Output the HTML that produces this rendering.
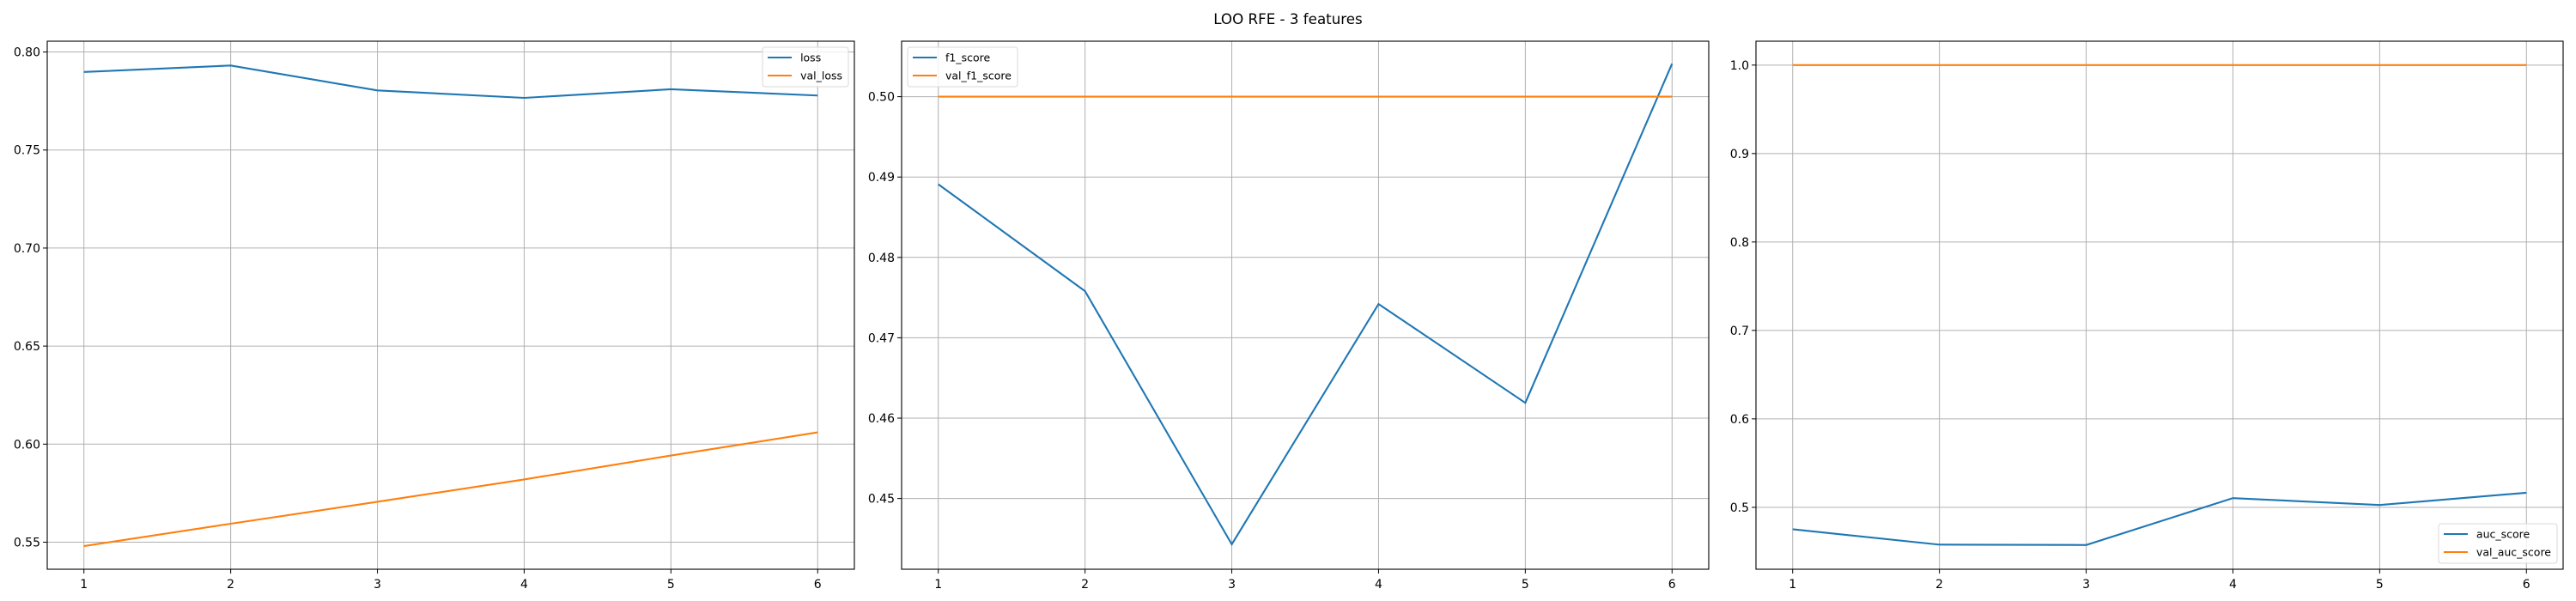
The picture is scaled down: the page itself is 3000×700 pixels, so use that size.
<!DOCTYPE html>
<html><head><meta charset="utf-8">
<style>
html,body{margin:0;padding:0;background:#fff;}
svg{display:block;font-family:"DejaVu Sans","Liberation Sans",sans-serif;}
</style></head>
<body>
<svg id="fig" width="3000" height="700" viewBox="0 0 3000 700" xmlns="http://www.w3.org/2000/svg">
<rect width="3000" height="700" fill="#fff"/>
<text x="1500" y="28" font-size="16.7" text-anchor="middle">LOO RFE - 3 features</text>
</svg>
<script>
const epochs = [1, 2, 3, 4, 5, 6];
const loss = [0.7898, 0.7931, 0.7804, 0.7766, 0.7810, 0.7778];
const valLoss = [0.5480, 0.5594, 0.5706, 0.5820, 0.5942, 0.6060];
const f1Score = [0.4891, 0.4758, 0.4443, 0.4742, 0.4619, 0.5041];
const valF1Score = [0.5, 0.5, 0.5, 0.5, 0.5, 0.5];
const aucScore = [0.4752, 0.4578, 0.4574, 0.5104, 0.5026, 0.5165];
const valAucScore = [1.0, 1.0, 1.0, 1.0, 1.0, 1.0];
const lossTicks = ["0.55", "0.60", "0.65", "0.70", "0.75", "0.80"];
const f1Ticks = ["0.45", "0.46", "0.47", "0.48", "0.49", "0.50"];
const aucTicks = ["0.5", "0.6", "0.7", "0.8", "0.9", "1.0"];

const NS = "http://www.w3.org/2000/svg";
const svg = document.getElementById('fig');
function mk(tag, attrs, parent){
  const e = document.createElementNS(NS, tag);
  for (const k in attrs) e.setAttribute(k, attrs[k]);
  (parent||svg).appendChild(e);
  return e;
}
const BLUE = "#1f77b4", ORANGE = "#ff7f0e";
const TOP = 48, BOT = 663;

const panels = [
  {name:"loss", x0:55, x1:995, ymin:0.5362, ymax:0.8055, ticks:lossTicks,
   series:[[loss,"loss",BLUE],[valLoss,"val_loss",ORANGE]], legend:"ur"},
  {name:"f1", x0:1050, x1:1990, ymin:0.4412, ymax:0.5069, ticks:f1Ticks,
   series:[[f1Score,"f1_score",BLUE],[valF1Score,"val_f1_score",ORANGE]], legend:"ul"},
  {name:"auc", x0:2045, x1:2985, ymin:0.430, ymax:1.027, ticks:aucTicks,
   series:[[aucScore,"auc_score",BLUE],[valAucScore,"val_auc_score",ORANGE]], legend:"lr"}
];

panels.forEach(p => {
  const g = mk('g', {});
  
  
  const xmin = epochs[0] - 0.25, xmax = epochs[epochs.length-1] + 0.25;
  const X = v => p.x0 + (v - xmin) / (xmax - xmin) * (p.x1 - p.x0);
  const Y = v => BOT - (v - p.ymin) / (p.ymax - p.ymin) * (BOT - TOP);
  epochs.forEach(e => {
    const x = X(e);
    const gl = mk('line', {x1:x, x2:x, y1:TOP, y2:BOT, stroke:"#b0b0b0", "stroke-width":1}, g);
    
    
    mk('line', {x1:x, x2:x, y1:BOT, y2:BOT+5, stroke:"#000", "stroke-width":1}, g);
    const t = mk('text', {x:x, y:BOT+22, "font-size":14, "text-anchor":"middle"}, g);
    
    
    t.textContent = e;
  });
  p.ticks.forEach(s => {
    const y = Y(parseFloat(s));
    const gl = mk('line', {x1:p.x0, x2:p.x1, y1:y, y2:y, stroke:"#b0b0b0", "stroke-width":1}, g);
    
    
    mk('line', {x1:p.x0-5, x2:p.x0, y1:y, y2:y, stroke:"#000", "stroke-width":1}, g);
    const t = mk('text', {x:p.x0-8, y:y+5, "font-size":14, "text-anchor":"end"}, g);
    
    
    t.textContent = s;
  });
  p.series.forEach(([vals, label, col]) => {
    const pts = vals.map((v,i) => X(epochs[i]) + "," + Y(v)).join(" ");
    const pl = mk('polyline', {points:pts, fill:"none", stroke:col, "stroke-width":2.1}, g);
    
    
  });
  const fr = mk('rect', {x:p.x0, y:TOP, width:p.x1-p.x0, height:BOT-TOP, fill:"none", stroke:"#000", "stroke-width":1.1}, g);
  
  
  // legend
  const lg = mk('g', {}, g);
  
  
  const box = mk('rect', {rx:3, fill:"#fff", "fill-opacity":0.8, stroke:"#d9d9d9", "stroke-width":1}, lg);
  const items = [];
  let maxW = 0;
  p.series.forEach(([vals, label, col]) => {
    const ln = mk('line', {stroke:col, "stroke-width":2.1}, lg);
    
    
    const t = mk('text', {"font-size":12.5, textLength:0}, lg);
    t.removeAttribute('textLength');
    
    
    t.textContent = label;
    maxW = Math.max(maxW, t.getComputedTextLength());
    items.push([ln, t]);
  });
  const lw = 44 + maxW + 7, lh = 46;
  let lx, ly;
  if (p.legend === "ur") { lx = p.x1 - 7 - lw; ly = TOP + 7; }
  else if (p.legend === "ul") { lx = p.x0 + 7; ly = TOP + 7; }
  else { lx = p.x1 - 7 - lw; ly = BOT - 7 - lh; }
  box.setAttribute('x', lx); box.setAttribute('y', ly);
  box.setAttribute('width', lw); box.setAttribute('height', lh);
  items.forEach(([ln, t], i) => {
    const cy = ly + 12 + i * 21;
    ln.setAttribute('x1', lx+6); ln.setAttribute('x2', lx+34);
    ln.setAttribute('y1', cy); ln.setAttribute('y2', cy);
    t.setAttribute('x', lx+44); t.setAttribute('y', cy+4.5);
  });
});
</script>
</body></html>
